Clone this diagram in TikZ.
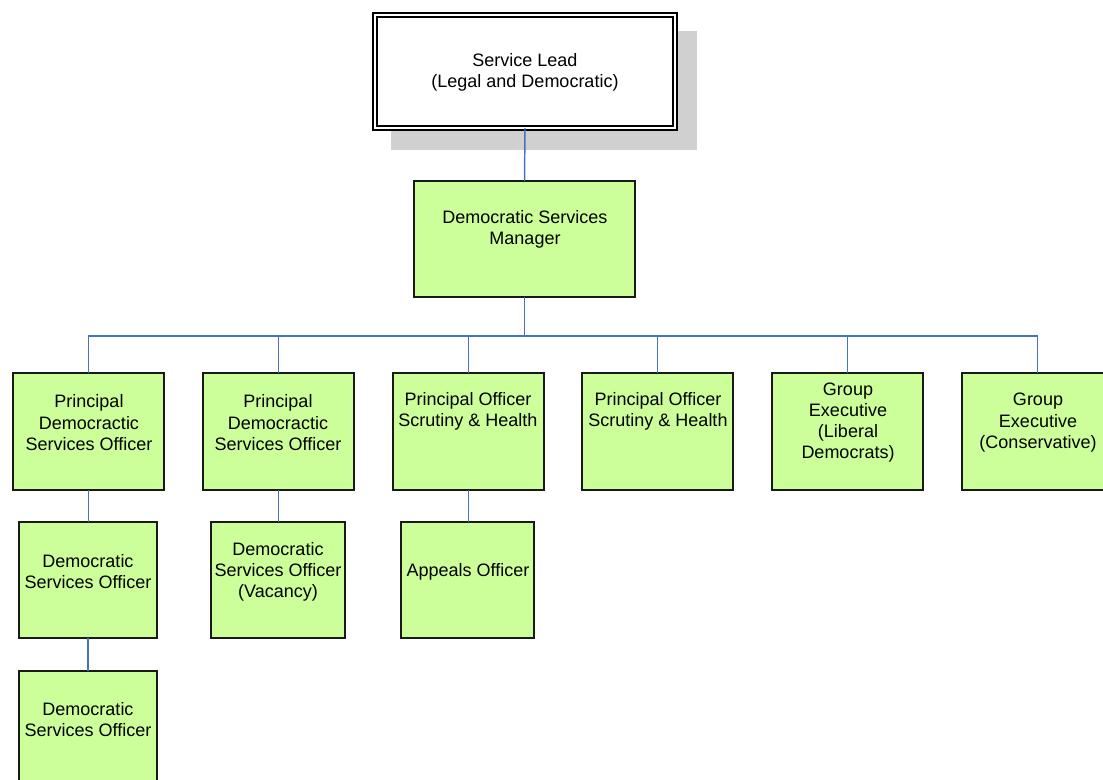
\documentclass[tikz,border=0pt]{standalone}
\usepackage{fontspec}
\setmainfont{Liberation Sans}
\definecolor{boxgreen}{RGB}{204,255,153}
\definecolor{linkblue}{RGB}{68,114,196}
\definecolor{shadowgray}{RGB}{208,208,208}
\begin{document}
\begin{tikzpicture}[x=0.75pt,y=-0.75pt,
  box/.style={draw=black!90,line width=1.05pt,fill=boxgreen,inner sep=0pt,outer sep=0pt},
  txt/.style={align=center,inner sep=0pt,yshift=-1.2pt,font=\fontsize{13.5pt}{15.9pt}\selectfont},
  link/.style={draw=linkblue,line width=1.1pt}]
\path[use as bounding box,clip] (0,0) rectangle (1103,780);
% shadow of top box
\fill[shadowgray] (391,31) rectangle (697,150);
% top box
\node[draw=black,fill=white,line width=1.2pt,double=white,double distance=2.2pt,
  minimum width=225pt,minimum height=84.75pt,inner sep=0pt,outer sep=0pt] (lead) at (525,71.5) {};
\node[txt] (leadt) at (525,71) {Service Lead\\(Legal and Democratic)};
% manager
\node[box,minimum width=165.75pt,minimum height=87pt] (dsm) at (524.5,239) {};
\node[txt] (dsmt) at (525,228) {Democratic Services\\Manager};
% row 1
\node[box,minimum width=113.25pt,minimum height=87.75pt] (p1) at (88.5,431.5) {};
\node[box,minimum width=113.25pt,minimum height=87.75pt] (p2) at (278.5,431.5) {};
\node[box,minimum width=113.25pt,minimum height=87.75pt] (p3) at (468.5,431.5) {};
\node[box,minimum width=113.25pt,minimum height=87.75pt] (p4) at (657.5,431.5) {};
\node[box,minimum width=113.25pt,minimum height=87.75pt] (g1) at (847.5,431.5) {};
\node[box,minimum width=113.25pt,minimum height=87.75pt] (g2) at (1037.5,431.5) {};
\node[txt] (p1t) at (89,421) {Principal\\Democractic\\Services Officer};
\node[txt] (p2t) at (278,421) {Principal\\Democractic\\Services Officer};
\node[txt] (p3t) at (468,410) {Principal Officer\\Scrutiny \& Health};
\node[txt] (p4t) at (658,410) {Principal Officer\\Scrutiny \& Health};
\node[txt] (g1t) at (848,421) {Group\\Executive\\(Liberal\\Democrats)};
\node[txt] (g2t) at (1038,421) {Group\\Executive\\(Conservative)};
% row 2
\node[box,minimum width=103.5pt,minimum height=87pt] (d1) at (88,580) {};
\node[box,minimum width=100.5pt,minimum height=87pt] (vac) at (278,580) {};
\node[box,minimum width=99.75pt,minimum height=87pt] (ap) at (467.5,580) {};
\node[txt] (d1t) at (88,570) {Democratic\\Services Officer};
\node[txt] (vact) at (278,570) {Democratic\\Services Officer\\(Vacancy)};
\node[txt] (apt) at (468,570) {Appeals Officer};
% row 3
\node[box,minimum width=103.5pt,minimum height=87pt] (d2) at (88,729) {};
\node[txt] (d2t) at (88,718) {Democratic\\Services Officer};
% connectors
\draw[link] (lead.south) -- (dsm.north);
\foreach \c in {p1,p2,p3,p4,g1,g2}
  \draw[link] (dsm.south) -- ++(0,39) -| (\c.north);
\draw[link] (p1.south) -- (p1.south |- d1.north);
\draw[link] (p2.south) -- (p2.south |- vac.north);
\draw[link] (p3.south) -- (p3.south |- ap.north);
\draw[link] (d1.south) -- (d1.south |- d2.north);
\end{tikzpicture}
\end{document}
